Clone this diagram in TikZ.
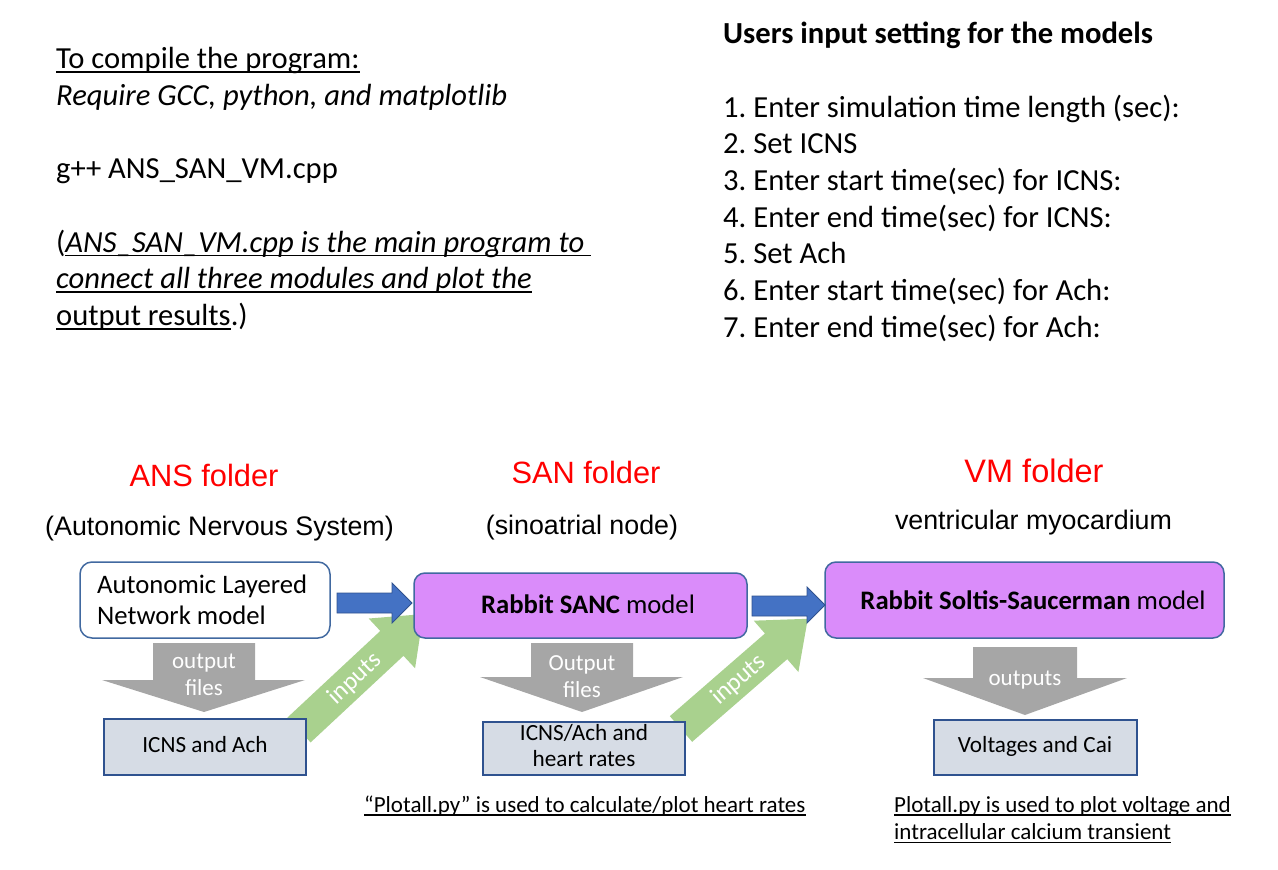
\documentclass[tikz,border=0pt]{standalone}
\usepackage{fontspec}
\setmainfont{Carlito}
\newfontfamily\arialf{Liberation Sans}
\frenchspacing
\definecolor{redlbl}{RGB}{255,0,0}
\definecolor{violetfill}{RGB}{218,140,250}
\definecolor{boxborder}{RGB}{65,105,160}
\definecolor{bluearrow}{RGB}{68,114,196}
\definecolor{bluedark}{RGB}{47,82,143}
\definecolor{greenarrow}{RGB}{169,209,142}
\definecolor{grayarrow}{RGB}{166,166,166}
\definecolor{outfill}{RGB}{214,220,229}
\newsavebox\ulbox
\newcommand\ulx[1]{\sbox\ulbox{#1}\rlap{\rule[-4.3pt]{\wd\ulbox}{1.7pt}}\usebox\ulbox}
\newcommand\uls[1]{\sbox\ulbox{#1}\rlap{\rule[-3.6pt]{\wd\ulbox}{1.3pt}}\usebox\ulbox}
\tikzset{
  big/.style={anchor=base west, inner sep=0pt, font=\fontsize{30.6}{36.7}\selectfont},
  folder/.style={anchor=base, inner sep=0pt, text=redlbl, font=\arialf\fontsize{30.8}{34}\selectfont},
  sub/.style={anchor=base, inner sep=0pt, font=\arialf\fontsize{26.8}{30}\selectfont},
  modelbox/.style={draw=boxborder, line width=1.5pt, rounded corners=11pt, fill=violetfill, inner sep=0pt},
  modeltxt/.style={anchor=base, inner sep=0pt, font=\fontsize{26.7}{31}\selectfont},
  outbox/.style={draw=bluedark, line width=1.3pt, fill=outfill, inner sep=0pt},
  outtxt/.style={anchor=base, inner sep=0pt, font=\fontsize{23.2}{27}\selectfont},
  graytxt/.style={anchor=base, inner sep=0pt, text=white, font=\fontsize{23}{27}\selectfont},
  blockgray/.style={fill=grayarrow},
  blockblue/.style={fill=bluearrow, draw=bluedark, line width=0.8pt},
  blockgreen/.style={fill=greenarrow},
  intxt/.style={text=white, inner sep=0pt, font=\fontsize{25}{28}\selectfont},
  note/.style={anchor=base west, inner sep=0pt, font=\fontsize{23}{27}\selectfont},
}
\begin{document}
\begin{tikzpicture}[x=1pt, y=-1pt]
\path[use as bounding box] (0,0) rectangle (1278,870);

% ---------- top left text ----------
\node[big] (c1) at (56,68.5) {\ulx{To compile the program:}};
\node[big] (c2) at (56,105.2) {\itshape Require GCC, python, and matplotlib};
\node[big] (c3) at (56,178.6) {g++ ANS\_SAN\_VM.cpp};
\node[big] (c4) at (56,252) {(\ulx{\itshape ANS\_SAN\_VM.cpp is the main program to\ }};
\node[big] (c5) at (56,288.7) {\ulx{\itshape connect all three modules and plot the}};
\node[big] (c6) at (56,325.4) {\ulx{output results}.)};

% ---------- top right text ----------
\node[big] (u0) at (723,43.5) {\bfseries Users input setting for the models};
\node[big] (u1) at (723,117) {1. Enter simulation time length (sec):};
\node[big] (u2) at (723,153.7) {2. Set ICNS};
\node[big] (u3) at (723,190.4) {3. Enter start time(sec) for ICNS:};
\node[big] (u4) at (723,227.1) {4. Enter end time(sec) for ICNS:};
\node[big] (u5) at (723,263.8) {5. Set Ach};
\node[big] (u6) at (723,300.5) {6. Enter start time(sec) for Ach:};
\node[big] (u7) at (723,337.2) {7. Enter end time(sec) for Ach:};

% ---------- folder titles ----------
\node[folder] (ansf) at (204,486) {ANS folder};
\node[folder] (sanf) at (586,483) {SAN folder};
\node[folder, font=\arialf\fontsize{32.5}{36}\selectfont] (vmf) at (1034,482.5) {VM folder};
\node[sub] (anss) at (219.5,535) {(Autonomic Nervous System)};
\node[sub] (sans) at (582,534) {(sinoatrial node)};
\node[sub] (vms) at (1033.5,529) {ventricular myocardium};

% ---------- green input arrows (behind) ----------
\begin{scope}[shift={(299,730)}, rotate=43]
  \fill[blockgreen] (0,-17) -- (127,-17) -- (127,-34) -- (170,0) -- (127,34) -- (127,17) -- (0,17) -- cycle;
  \node[intxt, rotate=43] (in1) at (76,1) {inputs};
\end{scope}
\begin{scope}[shift={(681,729)}, rotate=41]
  \fill[blockgreen] (0,-17) -- (126,-17) -- (126,-34) -- (168,0) -- (126,34) -- (126,17) -- (0,17) -- cycle;
  \node[intxt, rotate=41] (in2) at (76,1) {inputs};
\end{scope}

% ---------- gray output arrows ----------
\fill[blockgray] (153,643) -- (255,643) -- (255,680) -- (305,680) -- (204,712) -- (102,680) -- (153,680) -- cycle;
\fill[blockgray] (531,643) -- (633,643) -- (633,677) -- (683,677) -- (582,712) -- (480,677) -- (531,677) -- cycle;
\fill[blockgray] (973,647) -- (1077,647) -- (1077,678) -- (1127,678) -- (1025,715) -- (923,678) -- (973,678) -- cycle;
\node[graytxt] (g1a) at (204,668) {output};
\node[graytxt] (g1b) at (204,695) {files};
\node[graytxt] (g2a) at (582,670) {Output};
\node[graytxt] (g2b) at (582,697) {files};
\node[graytxt] (g3a) at (1025,685) {outputs};

% ---------- model boxes ----------
\node[modelbox, fill=white, rounded corners=12pt, minimum width=250pt, minimum height=76pt] (aln) at (205,600) {};
\node[modeltxt, anchor=base west] (aln1) at (97,593.5) {Autonomic Layered};
\node[modeltxt, anchor=base west] (aln2) at (97,624.5) {Network model};

\node[modelbox, minimum width=333pt, minimum height=65pt] (sanc) at (580.5,605.5) {};
\node[modeltxt] (sanct) at (588,613) {\textbf{Rabbit SANC} model};

\node[modelbox, minimum width=399pt, minimum height=76pt] (vm) at (1024.5,600) {};
\node[modeltxt] (vmt) at (1033,609) {\textbf{Rabbit Soltis-Saucerman} model};

% ---------- blue arrows ----------
\draw[blockblue] (337,593) -- (392,593) -- (392,583) -- (412,603) -- (392,623) -- (392,613) -- (337,613) -- cycle;
\draw[blockblue] (752,596) -- (807,596) -- (807,587) -- (825,605) -- (807,623) -- (807,616) -- (752,616) -- cycle;

% ---------- output boxes ----------
\node[outbox, minimum width=202pt, minimum height=56pt] (o1) at (205,747) {};
\node[outtxt] (o1t) at (205,752) {ICNS and Ach};
\node[outbox, minimum width=202pt, minimum height=53pt] (o2) at (584,748.5) {};
\node[outtxt] (o2a) at (584,740) {ICNS/Ach and};
\node[outtxt] (o2b) at (584,766.5) {heart rates};
\node[outbox, minimum width=203pt, minimum height=55pt] (o3) at (1035.5,747.5) {};
\node[outtxt] (o3t) at (1035,752) {Voltages and Cai};

% ---------- notes ----------
\node[note] (n1) at (364,812) {\uls{“Plotall.py” is used to calculate/plot heart rates}};
\node[note] (n2) at (894,812) {\uls{Plotall.py is used to plot voltage and}};
\node[note] (n3) at (894,839.5) {\uls{intracellular calcium transient}};
\end{tikzpicture}
\end{document}
